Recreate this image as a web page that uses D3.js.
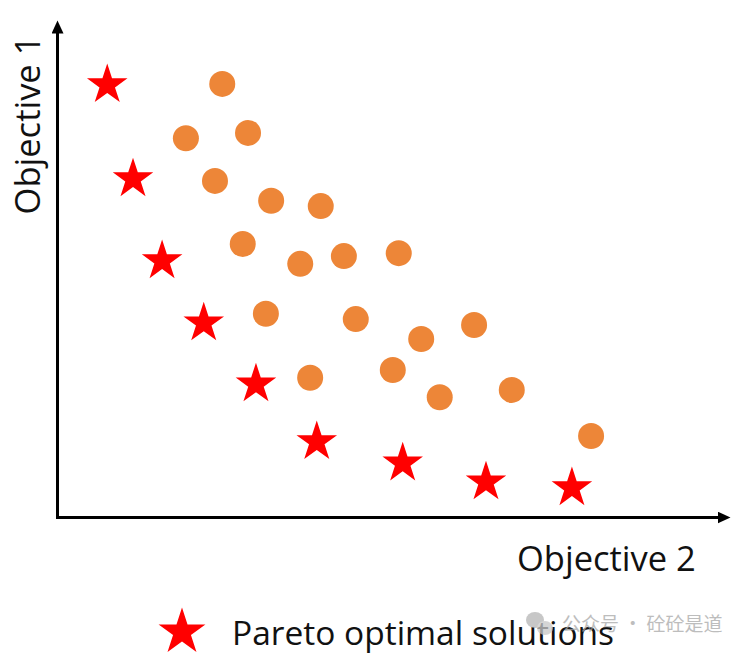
<!DOCTYPE html>
<html>
<head>
<meta charset="utf-8">
<script src="https://cdn.jsdelivr.net/npm/d3@7"></script>
<style>
  html, body { margin: 0; padding: 0; background: #fff; }
  svg { display: block; }
</style>
</head>
<body>
<script>
// ---- Data (values in 0–100 objective units) ----
const paretoObj2 = [7.6, 11.5, 15.9, 22.2, 30.1, 39.3, 52.3, 64.9, 77.9];
const paretoObj1 = [89.1, 69.7, 52.8, 40.0, 27.4, 15.5, 11.1, 7.2, 6.0];

const otherObj2 = [25.0, 19.5, 28.9, 23.9, 32.4, 39.9, 28.1, 36.8, 43.4, 51.7,
                   31.6, 45.2, 55.1, 63.1, 50.8, 38.3, 57.9, 68.8, 80.8];
const otherObj1 = [89.3, 78.1, 79.2, 69.3, 65.2, 64.1, 56.3, 52.2, 53.8, 54.4,
                   41.9, 40.8, 36.7, 39.6, 30.3, 28.7, 24.7, 26.2, 16.7];

const xLabel = "Objective 2";
const yLabel = "Objective 1";
const legendLabel = "Pareto optimal solutions";
const watermark = "公众号 · 砼砼是道";

// ---- Setup ----
const W = 748, H = 655;
const svg = d3.select("body").append("svg").attr("width", W).attr("height", H);

const x = d3.scaleLinear().domain([0, 100]).range([57, 718]);
const y = d3.scaleLinear().domain([0, 100]).range([517, 32]);

// arrow marker
svg.append("defs").append("marker")
  .attr("id", "arrow")
  .attr("markerUnits", "userSpaceOnUse")
  .attr("markerWidth", 14).attr("markerHeight", 12)
  .attr("viewBox", "0 0 14 12")
  .attr("refX", 1).attr("refY", 6)
  .attr("orient", "auto")
  .append("path").attr("d", "M0,0L13,6L0,12Z").attr("fill", "#000");

// axes
const xAxis = svg.append("g").attr("transform", `translate(0,${y(0)})`)
  .call(d3.axisBottom(x).ticks(0).tickSizeOuter(0));
const yAxis = svg.append("g").attr("transform", `translate(${x(0)},0)`)
  .call(d3.axisLeft(y).ticks(0).tickSizeOuter(0));
[xAxis, yAxis].forEach(g => {
  g.selectAll(".tick").remove();
  g.select(".domain")
    .attr("stroke", "#000").attr("stroke-width", 3)
    .attr("stroke-linecap", "square")
    .attr("marker-end", "url(#arrow)");
});

// other (dominated) solutions
const others = otherObj2.map((v, i) => ({ x: v, y: otherObj1[i] }));
svg.append("g").selectAll("circle").data(others).join("circle")
  .attr("cx", d => x(d.x)).attr("cy", d => y(d.y))
  .attr("r", 13).attr("fill", "#ED8638");

// pareto solutions
const pareto = paretoObj2.map((v, i) => ({ x: v, y: paretoObj1[i] }));
const star = d3.symbol().type(d3.symbolStar).size(510);
svg.append("g").selectAll("path").data(pareto).join("path")
  .attr("transform", d => `translate(${x(d.x)},${y(d.y)})`)
  .attr("d", star).attr("fill", "#FF0000");

// axis labels
const font = "'Open Sans', 'DejaVu Sans', sans-serif";
svg.append("text")
  .attr("x", 517).attr("y", 571)
  .attr("font-family", font).attr("font-size", 34.5).attr("fill", "#111")
  .text(xLabel);

svg.append("text")
  .attr("transform", "translate(40,125) rotate(-90)")
  .attr("text-anchor", "middle")
  .attr("font-family", font).attr("font-size", 34.5).attr("fill", "#111")
  .text(yLabel);

// legend
svg.append("path")
  .attr("transform", "translate(182,632)")
  .attr("d", d3.symbol().type(d3.symbolStar).size(680)).attr("fill", "#FF0000");
svg.append("text")
  .attr("x", 232).attr("y", 645)
  .attr("font-family", font).attr("font-size", 33.5).attr("fill", "#111")
  .text(legendLabel);

// watermark
const wm = svg.append("g").attr("opacity", 0.75);
wm.append("ellipse").attr("cx", 535).attr("cy", 620).attr("rx", 9).attr("ry", 8).attr("fill", "#b5b5b5");
wm.append("ellipse").attr("cx", 545).attr("cy", 628).attr("rx", 8).attr("ry", 7).attr("fill", "#c8c8c8");
wm.append("text")
  .attr("x", 562).attr("y", 631)
  .attr("font-family", "'Noto Sans CJK SC', sans-serif").attr("font-size", 19)
  .attr("fill", "#a8a8a8")
  .text(watermark);
</script>
</body>
</html>
